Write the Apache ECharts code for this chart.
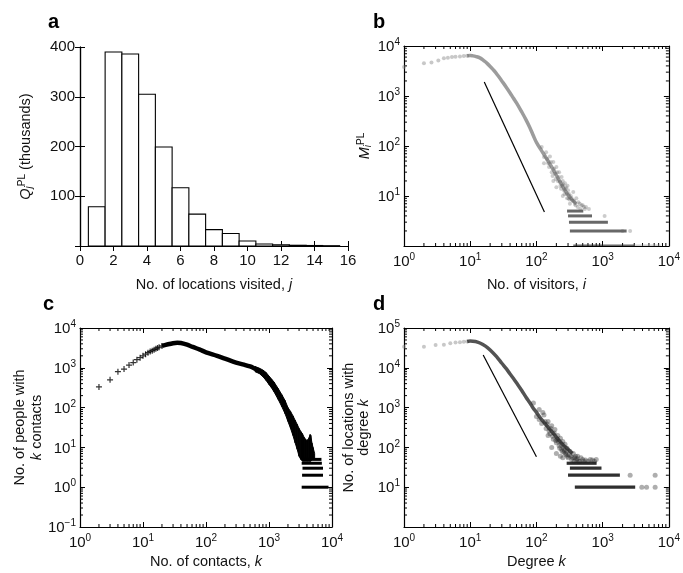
<!DOCTYPE html>
<html><head><meta charset="utf-8">
<script src="https://cdn.jsdelivr.net/npm/echarts@6/dist/echarts.min.js"></script>
<style>html,body{margin:0;padding:0;background:#fff}#c{width:683px;height:573px}</style>
</head><body><div id="c"></div>
<script>
// ---------- Panel a: histogram ----------
const aX = [1,2,3,4,5,6,7,8,9,10,11,12,13,14,15];
const aY = [79,390,386,305,199,117,64,33,25,10,4,2.5,1.5,1,0.6];
const aXTicks = [0,2,4,6,8,10,12,14,16];
const aYTicks = [100,200,300,400];

// ---------- Panel b: location visitors ----------
const bHeadX = [1,2,2.6,3.3,4,4.6,5.3,6,7,8,9];
const bHeadY = [3800,4500,4700,5100,5700,5800,6000,6100,6200,6300,6400];
const bCurveX = [9,10,11,12,14,16,18,20,23,26,30,35,40,45,50,60,70,80,90,100,120,140,170,200,240,280,330,400];
const bCurveY = [6400,6450,6350,6200,5800,5100,4500,3900,3200,2600,2000,1500,1150,900,730,480,330,230,160,118,80,58,38,26,17,12,9,7];
const bCloud = [[120,95],[130,60],[140,75],[150,45],[160,62],[170,30],[180,48],[190,28],[200,38],[210,20],[220,30],[230,16],[240,24],[250,20],[260,13],[270,18],[280,15],[290,9],[300,13],[310,11],[320,7],[330,10],[350,8],[360,12],[380,7],[400,9],[420,6],[450,7],[480,6.5],[520,6],[560,6],[620,5.5],[200,15],[250,10],[180,20],
  [130,45],[145,55],[155,38],[165,48],[175,25],[185,35],[195,22],[205,30],[215,24],[225,19],[235,14],[245,16],[255,17],[265,11],[275,14],[285,11],[295,16],[305,9],[315,8.5],[340,9],[370,8],[390,6.5],[430,7.5],[460,5.5],[500,6.5],[540,5.5],
  [1070,4],[2000,2],[2600,2]];
const bBands = [[290,510,5],[300,690,4],[310,1200,3],[320,2300,2],[360,3000,1]];
const bBandsFaint = [[3000,7500,1]];
const bLine = [[16.3,1900],[132,4.8]];

// ---------- Panel c: contacts ----------
const cHeadX = [2,3,4,5,6,7,8,9,10,11,12,13,14,15,16,17,18,20];
const cHeadY = [330,500,800,930,1170,1350,1600,1800,2000,2200,2400,2550,2700,2850,3000,3150,3300,3550];
const cCurveX = [20,25,30,35,40,50,60,70,80,100,150,200,300,400,500,600,700];
const cCurveY = [3550,3900,4150,4250,4200,3800,3400,3100,2850,2450,2000,1700,1350,1200,1080,950,850];
const cRangeX  = [600,700,800,900,1000,1100,1200,1400,1600,1800,2000,2200,2400,2600,2800,3000,3200,3400,3600,3800,4000,4200,4400,4500,4600,4800,5000,5300];
const cRangeLo = [800,720,600,480,380,310,250,160,105,70,45,30,20,13,9,6,5,4.5,4.5,4.5,4.5,4.5,4.5,4.5,4.5,5,5,5];
const cRangeHi = [1080,980,880,760,620,520,440,300,210,150,100,80,62,48,38,30,25,22,18,16,15,16,19,21,20,13,10,7];
const cBands = [[3400,6800,5],[3300,6900,4],[3400,7200,3],[3350,7200,2],[3300,8800,1]];

// ---------- Panel d: location degree ----------
const dHeadX = [1,2,3,4,5,6,7,8,9];
const dHeadY = [34000,34000,37500,38000,41500,43000,44000,45000,46000];
const dCurveX = [9,10,12,14,17,20,25,30,35,40,45,50,60,70,80,90,100,120,150,180,220,260,300,350];
const dCurveY = [46000,47000,46000,42000,35000,28000,19000,13000,9500,7000,5400,4200,2700,1800,1300,950,760,500,320,225,150,110,90,70];
const dCloud = [[90,1300],[100,600],[110,900],[120,400],[130,650],[140,300],[150,450],[160,220],[170,350],[180,160],[190,280],[200,130],[210,200],[220,110],[230,170],[240,90],[250,140],[260,75],[270,120],[280,65],[290,95],[300,55],[320,80],[340,50],[360,70],[380,55],[400,48],[420,60],[450,45],[500,50],[550,48],[600,45],[700,48],[800,50],[250,55],[200,70],[150,200],[170,100],[230,60],
  [110,500],[125,750],[135,450],[145,380],[155,260],[165,300],[175,190],[185,230],[195,150],[205,160],[215,140],[225,95],[235,120],[245,80],[255,100],[265,85],[275,70],[285,80],[295,60],[310,65],[330,60],[350,55],[370,45],[390,60],[410,52],[430,45],[470,55],[520,45],[650,50],[750,45],
  [2600,20],[6200,20],[3900,10],[4600,10],[6200,10]];
const dBands = [[286,810,40],[320,960,30],[300,1820,20],[380,3100,10]];
const dLine = [[15.7,21000],[100,58]];

// decade tick values
const decB = [1,10,100,1000,10000];
const decC = [0.1,1,10,100,1000,10000];
const decD = [1,10,100,1000,10000,100000];

const FONT = 'Liberation Sans, Arial, Helvetica, sans-serif';
const TXT = '#111';

function minorVals(decs){
  const out=[];
  for(let i=0;i<decs.length-1;i++){ for(let m=2;m<=9;m++) out.push(+(decs[i]*m).toPrecision(6)); }
  return out;
}
function zip(xs,ys){ return xs.map((x,i)=>[x,ys[i]]); }

const supRich = {
  b:{fontSize:15,fontFamily:FONT,color:TXT,lineHeight:17,verticalAlign:'bottom'},
  s:{fontSize:10,fontFamily:FONT,color:TXT,lineHeight:9,verticalAlign:'top'}
};
function logFmt(v){
  const e=Math.round(Math.log10(v));
  return '{b|10}{s|'+(e<0?'\u2212'+(-e):e)+'}';
}
const nameRich = {
  n:{fontSize:14.5,fontFamily:FONT,color:TXT,lineHeight:17},
  i:{fontSize:14.5,fontFamily:FONT,color:TXT,fontStyle:'italic',lineHeight:17},
  sub:{fontSize:10,fontFamily:FONT,color:TXT,fontStyle:'italic',lineHeight:9,verticalAlign:'bottom'},
  sup:{fontSize:10,fontFamily:FONT,color:TXT,lineHeight:9,verticalAlign:'top'}
};
const nameRich2 = Object.assign({}, nameRich, {
  n:{fontSize:14.5,fontFamily:FONT,color:TXT,lineHeight:15},
  i:{fontSize:14.5,fontFamily:FONT,color:TXT,fontStyle:'italic',lineHeight:15}
});

const grids = [
  {left:80,top:47,width:268,height:199},
  {left:404,top:46,width:265,height:200},
  {left:80,top:328,width:252,height:199},
  {left:404,top:328,width:265,height:199}
];

const axLine = {show:true,lineStyle:{color:'#000',width:1.2}};
function mainX(g, extra){
  return Object.assign({gridIndex:g,position:'bottom',axisLine:axLine,
    axisTick:{inside:true,length:5,lineStyle:{color:'#000'}},splitLine:{show:false},
    nameLocation:'middle',nameTextStyle:{rich:nameRich,fontSize:14.5,fontFamily:FONT,color:TXT}},extra);
}
function mainY(g, extra, rich){
  return Object.assign({gridIndex:g,position:'left',axisLine:axLine,
    axisTick:{inside:true,length:5,lineStyle:{color:'#000'}},splitLine:{show:false},
    nameLocation:'middle',nameRotate:90,nameTextStyle:{rich:rich||nameRich,fontSize:14.5,fontFamily:FONT,color:TXT,align:'center'}},extra);
}
function mirror(g, pos, extra){
  const o = {gridIndex:g,position:pos,axisLine:axLine,
    axisTick:{inside:true,length:5,lineStyle:{color:'#000'}},axisLabel:{show:false},splitLine:{show:false}};
  return Object.assign(o, extra);
}

const xAxes = [
  mainX(0,{type:'value',min:0,max:16,interval:2,
    axisLabel:{margin:7,fontSize:15,fontFamily:FONT,color:TXT,formatter:v=>aXTicks.includes(v)?String(v):''},
    name:'{n|No. of locations visited, }{i|j}',nameGap:30}),
  mirror(0,'top',{type:'value',min:0,max:16,interval:2}),
  mainX(1,{type:'log',logBase:10,min:1,max:10000,
    axisLabel:{margin:6,formatter:logFmt,rich:supRich},
    name:'{n|No. of visitors, }{i|i}',nameGap:30}),
  mirror(1,'top',{type:'log',logBase:10,min:1,max:10000}),
  mainX(2,{type:'log',logBase:10,min:1,max:10000,
    axisLabel:{margin:6,formatter:logFmt,rich:supRich},
    name:'{n|No. of contacts, }{i|k}',nameGap:26}),
  mirror(2,'top',{type:'log',logBase:10,min:1,max:10000}),
  mainX(3,{type:'log',logBase:10,min:1,max:10000,
    axisLabel:{margin:6,formatter:logFmt,rich:supRich},
    name:'{n|Degree }{i|k}',nameGap:26}),
  mirror(3,'top',{type:'log',logBase:10,min:1,max:10000})
];
const yAxes = [
  mainY(0,{type:'value',min:0,max:400,interval:100,
    axisLabel:{margin:5,fontSize:15,fontFamily:FONT,color:TXT,formatter:v=>aYTicks.includes(v)?String(v):''},
    name:'{i|Q}{sub|j}{sup|PL}{n| (thousands)}',nameGap:46}),
  mirror(0,'right',{type:'value',min:0,max:400,interval:100}),
  mainY(1,{type:'log',logBase:10,min:1,max:10000,
    axisLabel:{margin:4,formatter:v=>v===1?'':logFmt(v),rich:supRich},
    name:'{i|M}{sub|i}{sup|PL}',nameGap:31}),
  mirror(1,'right',{type:'log',logBase:10,min:1,max:10000}),
  mainY(2,{type:'log',logBase:10,min:0.1,max:10000,
    axisLabel:{margin:4,formatter:logFmt,rich:supRich},
    name:'{n|No. of people with}\n{i|k}{n| contacts}',nameGap:27}),
  mirror(2,'right',{type:'log',logBase:10,min:0.1,max:10000}),
  mainY(3,{type:'log',logBase:10,min:1,max:100000,
    axisLabel:{margin:4,formatter:v=>v===1?'':logFmt(v),rich:supRich},
    name:'{n|No. of locations with}\n{n|degree }{i|k}',nameGap:33},nameRich2),
  mirror(3,'right',{type:'log',logBase:10,min:1,max:100000})
];

// custom renderers
function histRender(params, api){
  const x=api.value(0), y=api.value(1);
  const p1=api.coord([x-0.5,y]), p2=api.coord([x+0.5,0]);
  return {type:'rect',shape:{x:p1[0],y:p1[1],width:p2[0]-p1[0],height:p2[1]-p1[1]},
    style:{fill:'#fff',stroke:'#000',lineWidth:1.1}};
}
function segRenderer(color,width){
  return function(params, api){
    const p1=api.coord([api.value(0),api.value(2)]), p2=api.coord([api.value(1),api.value(2)]);
    return {type:'line',shape:{x1:p1[0],y1:p1[1],x2:p2[0],y2:p2[1]},style:{stroke:color,lineWidth:width}};
  };
}
// filled band between consecutive (x, lo, hi) entries
function bandRender(params, api){
  const i=params.dataIndex;
  if(i>=cRangeX.length-1) return null;
  const a1=api.coord([cRangeX[i],cRangeLo[i]]), a2=api.coord([cRangeX[i+1],cRangeLo[i+1]]);
  const b2=api.coord([cRangeX[i+1],cRangeHi[i+1]]), b1=api.coord([cRangeX[i],cRangeHi[i]]);
  return {type:'polygon',shape:{points:[a1,a2,b2,b1]},style:{fill:'#000',stroke:'#000',lineWidth:1}};
}
function minorXRender(params, api){
  const cs=params.coordSys; const p=api.coord([api.value(0),api.value(1)]);
  const t=cs.y, b=cs.y+cs.height;
  return {type:'group',children:[
    {type:'line',shape:{x1:p[0],y1:b,x2:p[0],y2:b-3},style:{stroke:'#000',lineWidth:1}},
    {type:'line',shape:{x1:p[0],y1:t,x2:p[0],y2:t+3},style:{stroke:'#000',lineWidth:1}}]};
}
function minorYRender(params, api){
  const cs=params.coordSys; const p=api.coord([api.value(0),api.value(1)]);
  const l=cs.x, r=cs.x+cs.width;
  return {type:'group',children:[
    {type:'line',shape:{x1:l,y1:p[1],x2:l+3,y2:p[1]},style:{stroke:'#000',lineWidth:1}},
    {type:'line',shape:{x1:r,y1:p[1],x2:r-3,y2:p[1]},style:{stroke:'#000',lineWidth:1}}]};
}
function minorSeries(xi, yi, xdec, ydec){
  const xmin=xdec[0], ymin=ydec[0];
  return [
    {type:'custom',xAxisIndex:xi,yAxisIndex:yi,renderItem:minorXRender,silent:true,z:1,
      data:minorVals(xdec).map(v=>[v,ymin])},
    {type:'custom',xAxisIndex:xi,yAxisIndex:yi,renderItem:minorYRender,silent:true,z:1,
      data:minorVals(ydec).map(v=>[xmin,v])}
  ];
}

const PLUS = 'path://M-0.6,-3H0.6V-0.6H3V0.6H0.6V3H-0.6V0.6H-3V-0.6H-0.6Z';
const greyB = 'rgba(95,95,95,0.4)';

const series = [
  // a
  {type:'custom',xAxisIndex:0,yAxisIndex:0,renderItem:histRender,data:zip(aX,aY),encode:{x:0,y:1},z:2},
  // b
  ...minorSeries(2,2,decB,decB),
  {type:'custom',xAxisIndex:2,yAxisIndex:2,renderItem:segRenderer('rgba(150,150,150,0.45)',3),data:bBandsFaint,encode:{x:[0,1],y:2},clip:true},
  {type:'custom',xAxisIndex:2,yAxisIndex:2,renderItem:segRenderer('rgba(40,40,40,0.7)',3),data:bBands,encode:{x:[0,1],y:2},clip:true},
  {type:'line',xAxisIndex:2,yAxisIndex:2,data:zip(bCurveX,bCurveY),showSymbol:false,smooth:0.4,
    lineStyle:{color:'rgba(90,90,90,0.6)',width:3.5}},
  {type:'scatter',xAxisIndex:2,yAxisIndex:2,data:zip(bHeadX,bHeadY),symbol:'circle',symbolSize:4,itemStyle:{color:'rgba(130,130,130,0.55)'}},
  {type:'scatter',xAxisIndex:2,yAxisIndex:2,data:bCloud,symbol:'circle',symbolSize:4,itemStyle:{color:greyB}},
  {type:'line',xAxisIndex:2,yAxisIndex:2,data:bLine,showSymbol:false,lineStyle:{color:'#000',width:1.2}},
  // c
  ...minorSeries(4,4,decB,decC),
  {type:'line',xAxisIndex:4,yAxisIndex:4,data:zip(cCurveX,cCurveY),showSymbol:false,smooth:0.3,
    lineStyle:{color:'#000',width:4.5}},
  {type:'custom',xAxisIndex:4,yAxisIndex:4,renderItem:bandRender,
    data:cRangeX.map((x,i)=>[x,cRangeLo[i],cRangeHi[i]]),encode:{x:0,y:[1,2]}},
  {type:'custom',xAxisIndex:4,yAxisIndex:4,renderItem:segRenderer('#000',3),data:cBands,encode:{x:[0,1],y:2},clip:true},
  {type:'scatter',xAxisIndex:4,yAxisIndex:4,data:zip(cHeadX,cHeadY),symbol:PLUS,symbolSize:6,itemStyle:{color:'#000'}},
  // d
  ...minorSeries(6,6,decB,decD),
  {type:'custom',xAxisIndex:6,yAxisIndex:6,renderItem:segRenderer('rgba(10,10,10,0.85)',3.2),data:dBands,encode:{x:[0,1],y:2},clip:true},
  {type:'line',xAxisIndex:6,yAxisIndex:6,data:zip(dCurveX,dCurveY),showSymbol:false,smooth:0.3,
    lineStyle:{color:'rgba(40,40,40,0.8)',width:3.5}},
  {type:'scatter',xAxisIndex:6,yAxisIndex:6,data:zip(dHeadX,dHeadY),symbol:'circle',symbolSize:4,itemStyle:{color:'rgba(130,130,130,0.55)'}},
  {type:'scatter',xAxisIndex:6,yAxisIndex:6,data:dCloud,symbol:'circle',symbolSize:5,itemStyle:{color:'rgba(30,30,30,0.45)'}},
  {type:'line',xAxisIndex:6,yAxisIndex:6,data:dLine,showSymbol:false,lineStyle:{color:'#000',width:1.2}}
];

const letters = [['a',48,12],['b',373,12],['c',43,294],['d',373,294]];
const chart = echarts.init(document.getElementById('c'),null,{renderer:'canvas'});
chart.setOption({
  animation:false,
  backgroundColor:'#fff',
  grid:grids,
  xAxis:xAxes,
  yAxis:yAxes,
  series:series,
  graphic:letters.map(l=>({type:'text',left:l[1],top:l[2],style:{text:l[0],font:'bold 20px '+FONT,fill:'#000'}}))
});
</script></body></html>
